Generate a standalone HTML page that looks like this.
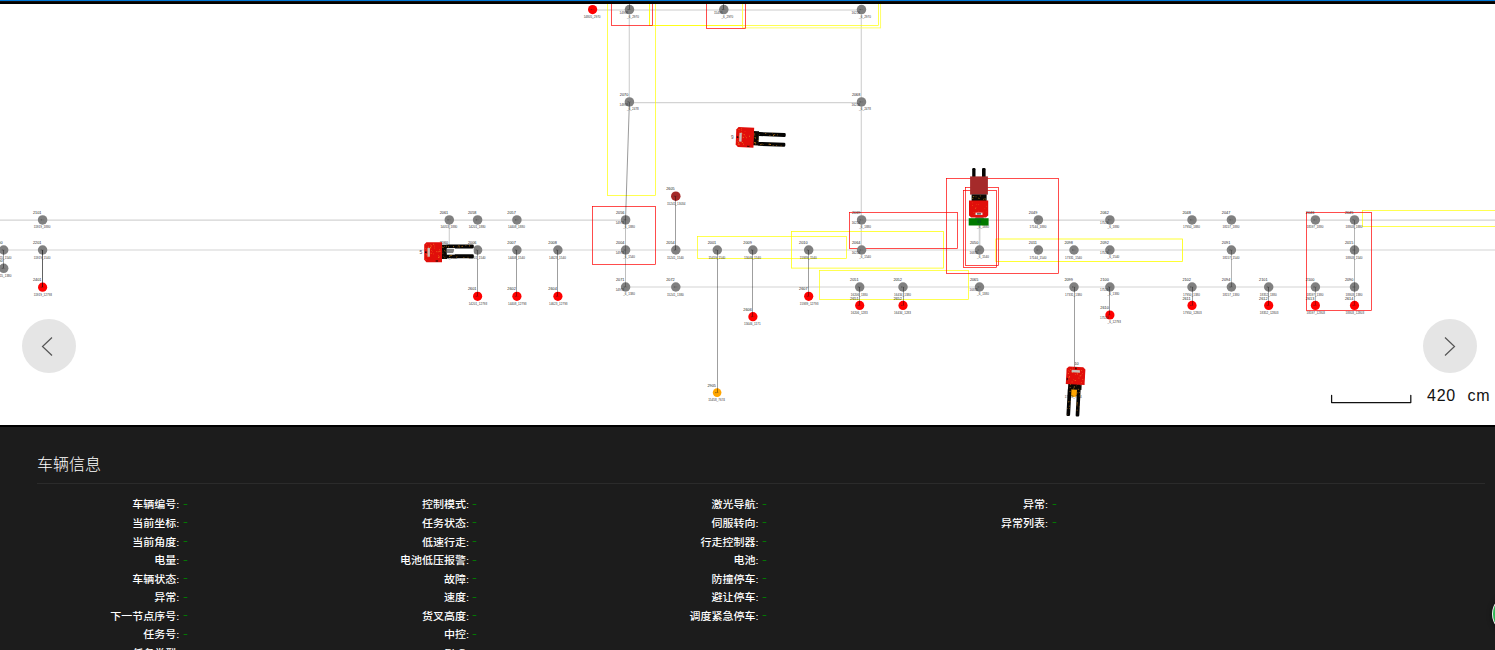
<!DOCTYPE html>
<html lang="zh-CN">
<head>
<meta charset="utf-8">
<title>车辆监控</title>
<style>
*{box-sizing:border-box}
html,body{margin:0;padding:0}
body{width:1495px;height:650px;overflow:hidden;background:#1c1c1c;position:relative;font-family:"Liberation Sans","Noto Sans CJK SC",sans-serif;color:#fff}
#top{position:absolute;left:0;top:0;width:1495px;height:4px;background:linear-gradient(#17100c 0,#17100c 1px,#000 1px);border-top:1px solid #0078d7;z-index:5}
#map{position:absolute;left:0;top:0;width:1495px;height:427px;background:#fff;overflow:hidden;border-bottom:2px solid #000}
#map svg{position:absolute;left:0;top:0}
#map text{font-family:"Liberation Sans",sans-serif;fill:#222}
#map text.i{font-size:3.8px}
#map text.c{font-size:3.04px;fill:#333}
.nav{position:absolute;top:319px;width:54px;height:54px;border-radius:50%;background:#e5e5e5}
.nav svg{position:absolute;left:0;top:0}
#prev{left:22px}
#next{left:1423px}
#scale{position:absolute;left:1427px;top:386.3px;font-size:16px;line-height:20px;color:#111;white-space:pre;letter-spacing:.75px;word-spacing:.6px}
#info{position:absolute;left:0;top:427px;width:1495px;height:223px;background:#1c1c1c}
#info h3{position:absolute;left:37px;top:26px;margin:0;font-size:16px;font-weight:300;line-height:24px;color:#fff}
#info hr{position:absolute;left:37px;top:56px;width:1448px;height:1px;border:0;margin:0;background:#2b2b2b}
#grid{position:absolute;left:37px;top:66.9px;width:1448px;display:flex}
.col{list-style:none;margin:0;padding:0;width:20%;font-size:11px;font-weight:500;line-height:18.571px}
.col li{height:18.571px;white-space:nowrap;display:flex}
.k{display:block;width:142.4px;text-align:right;position:relative;top:1.6px;transform:scaleY(.9);transform-origin:100% 60%}
.k.en{top:-.4px;font-weight:400}
.v{display:block;margin-left:3.4px;font-size:11px;letter-spacing:0;color:#008000;font-weight:400;transform:scaleX(1.35);transform-origin:0 50%}
#fab{position:absolute;left:1491.8px;top:593.2px;width:42px;height:42px;border-radius:50%;background:#2db553;border:1.3px solid #f2f2f2;box-shadow:0 1px 5px rgba(0,0,0,.5)}
</style>
</head>
<body>
<div id="map">
<svg width="1495" height="425" viewBox="0 0 1495 425">
<line x1="0.0" y1="220.2" x2="625.6" y2="220.2" stroke="#d3d3d3" stroke-width="1.2"/>
<line x1="861.6" y1="220.2" x2="1495.0" y2="220.2" stroke="#d3d3d3" stroke-width="1.2"/>
<line x1="0.0" y1="250.0" x2="1495.0" y2="250.0" stroke="#d3d3d3" stroke-width="1.2"/>
<line x1="625.6" y1="287.0" x2="1354.5" y2="287.0" stroke="#d3d3d3" stroke-width="1.2"/>
<line x1="592.6" y1="10.0" x2="861.5" y2="10.0" stroke="#dcdcdc" stroke-width="1.7"/>
<line x1="629.3" y1="9.6" x2="629.3" y2="102.6" stroke="#d3d3d3" stroke-width="1.2"/>
<line x1="629.3" y1="102.6" x2="861.3" y2="102.6" stroke="#d3d3d3" stroke-width="1.2"/>
<line x1="861.3" y1="9.6" x2="861.3" y2="250.0" stroke="#d3d3d3" stroke-width="1.2"/>
<line x1="449.3" y1="220.2" x2="449.3" y2="250.0" stroke="#d3d3d3" stroke-width="1.2"/>
<line x1="979.6" y1="220.2" x2="979.6" y2="250.0" stroke="#d3d3d3" stroke-width="1.7"/>
<rect x="607.5" y="-4.5" width="48.0" height="200.0" fill="none" stroke="#ffff00" stroke-width="0.68"/>
<rect x="649.5" y="-4.5" width="93.0" height="30.0" fill="none" stroke="#ffff00" stroke-width="0.68"/>
<rect x="742.5" y="-5.0" width="138.1" height="32.9" fill="none" stroke="#ffff55" stroke-width="0.9"/>
<rect x="649.5" y="-4.5" width="229.0" height="30.0" fill="none" stroke="#ffff00" stroke-width="0.68"/>
<rect x="697.5" y="236.5" width="149.0" height="22.0" fill="none" stroke="#ffff00" stroke-width="0.68"/>
<rect x="791.5" y="231.5" width="152.0" height="36.6" fill="none" stroke="#ffff00" stroke-width="0.75"/>
<rect x="819.5" y="270.5" width="149.0" height="29.0" fill="none" stroke="#ffff00" stroke-width="0.68"/>
<rect x="995.9" y="239.0" width="186.6" height="22.4" fill="none" stroke="#ffff00" stroke-width="0.8"/>
<rect x="1362.5" y="210.5" width="138.0" height="16.0" fill="none" stroke="#ffff00" stroke-width="0.68"/>
<rect x="611.5" y="-4.5" width="41.0" height="30.0" fill="none" stroke="#ff0000" stroke-width="0.7"/>
<rect x="706.5" y="-4.5" width="39.0" height="33.0" fill="none" stroke="#ff0000" stroke-width="0.7"/>
<rect x="592.5" y="206.5" width="63.0" height="58.0" fill="none" stroke="#ff0000" stroke-width="0.7"/>
<rect x="849.5" y="212.5" width="108.0" height="36.0" fill="none" stroke="#ff0000" stroke-width="0.7"/>
<rect x="946.5" y="178.5" width="112.0" height="95.0" fill="none" stroke="#ff0000" stroke-width="0.7"/>
<rect x="963.5" y="190.5" width="33.0" height="77.0" fill="none" stroke="#ff0000" stroke-width="0.7"/>
<rect x="965.5" y="187.5" width="33.0" height="78.0" fill="none" stroke="#ff0000" stroke-width="0.7"/>
<rect x="1306.5" y="212.5" width="65.0" height="98.0" fill="none" stroke="#ff0000" stroke-width="0.7"/>
<circle cx="592.6" cy="9.6" r="4.6" fill="#ff0000"/>
<path d="M590.6 9.6h1.4" stroke="#222" stroke-width="1" opacity=".45"/><path d="M592.0 9.6h2.2" stroke="#222" stroke-width=".5" opacity=".3"/>
<circle cx="629.5" cy="9.6" r="4.75" fill="#808080"/>
<path d="M627.5 9.6h1.4" stroke="#222" stroke-width="1" opacity=".45"/><path d="M628.9 9.6h2.2" stroke="#222" stroke-width=".5" opacity=".3"/>
<circle cx="723.8" cy="9.6" r="4.75" fill="#808080"/>
<path d="M721.8 9.6h1.4" stroke="#222" stroke-width="1" opacity=".45"/><path d="M723.2 9.6h2.2" stroke="#222" stroke-width=".5" opacity=".3"/>
<circle cx="861.5" cy="9.6" r="4.75" fill="#808080"/>
<path d="M859.5 9.6h1.4" stroke="#222" stroke-width="1" opacity=".45"/><path d="M860.9 9.6h2.2" stroke="#222" stroke-width=".5" opacity=".3"/>
<circle cx="629.4" cy="101.9" r="4.75" fill="#808080"/>
<path d="M627.4 101.9h1.4" stroke="#222" stroke-width="1" opacity=".45"/><path d="M628.8 101.9h2.2" stroke="#222" stroke-width=".5" opacity=".3"/>
<circle cx="861.5" cy="101.9" r="4.75" fill="#808080"/>
<path d="M859.5 101.9h1.4" stroke="#222" stroke-width="1" opacity=".45"/><path d="M860.9 101.9h2.2" stroke="#222" stroke-width=".5" opacity=".3"/>
<circle cx="675.8" cy="196.2" r="4.75" fill="#a52a2a"/>
<path d="M673.8 196.2h1.4" stroke="#222" stroke-width="1" opacity=".45"/><path d="M675.2 196.2h2.2" stroke="#222" stroke-width=".5" opacity=".3"/>
<circle cx="42.6" cy="219.9" r="4.75" fill="#808080"/>
<path d="M40.6 219.9h1.4" stroke="#222" stroke-width="1" opacity=".45"/><path d="M42.0 219.9h2.2" stroke="#222" stroke-width=".5" opacity=".3"/>
<circle cx="449.3" cy="219.9" r="4.75" fill="#808080"/>
<path d="M447.3 219.9h1.4" stroke="#222" stroke-width="1" opacity=".45"/><path d="M448.7 219.9h2.2" stroke="#222" stroke-width=".5" opacity=".3"/>
<circle cx="477.6" cy="219.9" r="4.75" fill="#808080"/>
<path d="M475.6 219.9h1.4" stroke="#222" stroke-width="1" opacity=".45"/><path d="M477.0 219.9h2.2" stroke="#222" stroke-width=".5" opacity=".3"/>
<circle cx="516.9" cy="219.9" r="4.75" fill="#808080"/>
<path d="M514.9 219.9h1.4" stroke="#222" stroke-width="1" opacity=".45"/><path d="M516.3 219.9h2.2" stroke="#222" stroke-width=".5" opacity=".3"/>
<circle cx="625.6" cy="219.9" r="4.75" fill="#808080"/>
<path d="M623.6 219.9h1.4" stroke="#222" stroke-width="1" opacity=".45"/><path d="M625.0 219.9h2.2" stroke="#222" stroke-width=".5" opacity=".3"/>
<circle cx="861.6" cy="219.9" r="4.75" fill="#808080"/>
<path d="M859.6 219.9h1.4" stroke="#222" stroke-width="1" opacity=".45"/><path d="M861.0 219.9h2.2" stroke="#222" stroke-width=".5" opacity=".3"/>
<circle cx="979.5" cy="219.9" r="4.75" fill="#808080"/>
<path d="M977.5 219.9h1.4" stroke="#222" stroke-width="1" opacity=".45"/><path d="M978.9 219.9h2.2" stroke="#222" stroke-width=".5" opacity=".3"/>
<circle cx="1038.4" cy="219.9" r="4.75" fill="#808080"/>
<path d="M1036.4 219.9h1.4" stroke="#222" stroke-width="1" opacity=".45"/><path d="M1037.8 219.9h2.2" stroke="#222" stroke-width=".5" opacity=".3"/>
<circle cx="1109.9" cy="219.9" r="4.75" fill="#808080"/>
<path d="M1107.9 219.9h1.4" stroke="#222" stroke-width="1" opacity=".45"/><path d="M1109.3 219.9h2.2" stroke="#222" stroke-width=".5" opacity=".3"/>
<circle cx="1192.0" cy="219.9" r="4.75" fill="#808080"/>
<path d="M1190.0 219.9h1.4" stroke="#222" stroke-width="1" opacity=".45"/><path d="M1191.4 219.9h2.2" stroke="#222" stroke-width=".5" opacity=".3"/>
<circle cx="1231.4" cy="219.9" r="4.75" fill="#808080"/>
<path d="M1229.4 219.9h1.4" stroke="#222" stroke-width="1" opacity=".45"/><path d="M1230.8 219.9h2.2" stroke="#222" stroke-width=".5" opacity=".3"/>
<circle cx="1315.4" cy="219.9" r="4.75" fill="#808080"/>
<path d="M1313.4 219.9h1.4" stroke="#222" stroke-width="1" opacity=".45"/><path d="M1314.8 219.9h2.2" stroke="#222" stroke-width=".5" opacity=".3"/>
<circle cx="1354.5" cy="219.9" r="4.75" fill="#808080"/>
<path d="M1352.5 219.9h1.4" stroke="#222" stroke-width="1" opacity=".45"/><path d="M1353.9 219.9h2.2" stroke="#222" stroke-width=".5" opacity=".3"/>
<circle cx="3.7" cy="250.0" r="4.75" fill="#808080"/>
<path d="M1.7 250.0h1.4" stroke="#222" stroke-width="1" opacity=".45"/><path d="M3.1 250.0h2.2" stroke="#222" stroke-width=".5" opacity=".3"/>
<circle cx="42.6" cy="250.0" r="4.75" fill="#808080"/>
<path d="M40.6 250.0h1.4" stroke="#222" stroke-width="1" opacity=".45"/><path d="M42.0 250.0h2.2" stroke="#222" stroke-width=".5" opacity=".3"/>
<circle cx="449.3" cy="250.0" r="4.75" fill="#808080"/>
<path d="M447.3 250.0h1.4" stroke="#222" stroke-width="1" opacity=".45"/><path d="M448.7 250.0h2.2" stroke="#222" stroke-width=".5" opacity=".3"/>
<circle cx="477.6" cy="250.0" r="4.75" fill="#808080"/>
<path d="M475.6 250.0h1.4" stroke="#222" stroke-width="1" opacity=".45"/><path d="M477.0 250.0h2.2" stroke="#222" stroke-width=".5" opacity=".3"/>
<circle cx="516.9" cy="250.0" r="4.75" fill="#808080"/>
<path d="M514.9 250.0h1.4" stroke="#222" stroke-width="1" opacity=".45"/><path d="M516.3 250.0h2.2" stroke="#222" stroke-width=".5" opacity=".3"/>
<circle cx="557.9" cy="250.0" r="4.75" fill="#808080"/>
<path d="M555.9 250.0h1.4" stroke="#222" stroke-width="1" opacity=".45"/><path d="M557.3 250.0h2.2" stroke="#222" stroke-width=".5" opacity=".3"/>
<circle cx="625.6" cy="250.0" r="4.75" fill="#808080"/>
<path d="M623.6 250.0h1.4" stroke="#222" stroke-width="1" opacity=".45"/><path d="M625.0 250.0h2.2" stroke="#222" stroke-width=".5" opacity=".3"/>
<circle cx="675.8" cy="250.0" r="4.75" fill="#808080"/>
<path d="M673.8 250.0h1.4" stroke="#222" stroke-width="1" opacity=".45"/><path d="M675.2 250.0h2.2" stroke="#222" stroke-width=".5" opacity=".3"/>
<circle cx="717.3" cy="250.0" r="4.75" fill="#808080"/>
<path d="M715.3 250.0h1.4" stroke="#222" stroke-width="1" opacity=".45"/><path d="M716.7 250.0h2.2" stroke="#222" stroke-width=".5" opacity=".3"/>
<circle cx="752.9" cy="250.0" r="4.75" fill="#808080"/>
<path d="M750.9 250.0h1.4" stroke="#222" stroke-width="1" opacity=".45"/><path d="M752.3 250.0h2.2" stroke="#222" stroke-width=".5" opacity=".3"/>
<circle cx="808.7" cy="250.0" r="4.75" fill="#808080"/>
<path d="M806.7 250.0h1.4" stroke="#222" stroke-width="1" opacity=".45"/><path d="M808.1 250.0h2.2" stroke="#222" stroke-width=".5" opacity=".3"/>
<circle cx="861.6" cy="250.0" r="4.75" fill="#808080"/>
<path d="M859.6 250.0h1.4" stroke="#222" stroke-width="1" opacity=".45"/><path d="M861.0 250.0h2.2" stroke="#222" stroke-width=".5" opacity=".3"/>
<circle cx="979.5" cy="250.0" r="4.75" fill="#808080"/>
<path d="M977.5 250.0h1.4" stroke="#222" stroke-width="1" opacity=".45"/><path d="M978.9 250.0h2.2" stroke="#222" stroke-width=".5" opacity=".3"/>
<circle cx="1038.4" cy="250.0" r="4.75" fill="#808080"/>
<path d="M1036.4 250.0h1.4" stroke="#222" stroke-width="1" opacity=".45"/><path d="M1037.8 250.0h2.2" stroke="#222" stroke-width=".5" opacity=".3"/>
<circle cx="1074.0" cy="250.0" r="4.75" fill="#808080"/>
<path d="M1072.0 250.0h1.4" stroke="#222" stroke-width="1" opacity=".45"/><path d="M1073.4 250.0h2.2" stroke="#222" stroke-width=".5" opacity=".3"/>
<circle cx="1109.9" cy="250.0" r="4.75" fill="#808080"/>
<path d="M1107.9 250.0h1.4" stroke="#222" stroke-width="1" opacity=".45"/><path d="M1109.3 250.0h2.2" stroke="#222" stroke-width=".5" opacity=".3"/>
<circle cx="1231.4" cy="250.0" r="4.75" fill="#808080"/>
<path d="M1229.4 250.0h1.4" stroke="#222" stroke-width="1" opacity=".45"/><path d="M1230.8 250.0h2.2" stroke="#222" stroke-width=".5" opacity=".3"/>
<circle cx="1354.5" cy="250.0" r="4.75" fill="#808080"/>
<path d="M1352.5 250.0h1.4" stroke="#222" stroke-width="1" opacity=".45"/><path d="M1353.9 250.0h2.2" stroke="#222" stroke-width=".5" opacity=".3"/>
<circle cx="3.7" cy="268.3" r="4.75" fill="#808080"/>
<path d="M1.7 268.3h1.4" stroke="#222" stroke-width="1" opacity=".45"/><path d="M3.1 268.3h2.2" stroke="#222" stroke-width=".5" opacity=".3"/>
<circle cx="625.6" cy="287.0" r="4.75" fill="#808080"/>
<path d="M623.6 287.0h1.4" stroke="#222" stroke-width="1" opacity=".45"/><path d="M625.0 287.0h2.2" stroke="#222" stroke-width=".5" opacity=".3"/>
<circle cx="675.8" cy="287.0" r="4.75" fill="#808080"/>
<path d="M673.8 287.0h1.4" stroke="#222" stroke-width="1" opacity=".45"/><path d="M675.2 287.0h2.2" stroke="#222" stroke-width=".5" opacity=".3"/>
<circle cx="859.7" cy="287.0" r="4.75" fill="#808080"/>
<path d="M857.7 287.0h1.4" stroke="#222" stroke-width="1" opacity=".45"/><path d="M859.1 287.0h2.2" stroke="#222" stroke-width=".5" opacity=".3"/>
<circle cx="903.0" cy="287.0" r="4.75" fill="#808080"/>
<path d="M901.0 287.0h1.4" stroke="#222" stroke-width="1" opacity=".45"/><path d="M902.4 287.0h2.2" stroke="#222" stroke-width=".5" opacity=".3"/>
<circle cx="979.5" cy="287.0" r="4.75" fill="#808080"/>
<path d="M977.5 287.0h1.4" stroke="#222" stroke-width="1" opacity=".45"/><path d="M978.9 287.0h2.2" stroke="#222" stroke-width=".5" opacity=".3"/>
<circle cx="1074.0" cy="287.0" r="4.75" fill="#808080"/>
<path d="M1072.0 287.0h1.4" stroke="#222" stroke-width="1" opacity=".45"/><path d="M1073.4 287.0h2.2" stroke="#222" stroke-width=".5" opacity=".3"/>
<circle cx="1109.9" cy="287.0" r="4.75" fill="#808080"/>
<path d="M1107.9 287.0h1.4" stroke="#222" stroke-width="1" opacity=".45"/><path d="M1109.3 287.0h2.2" stroke="#222" stroke-width=".5" opacity=".3"/>
<circle cx="1192.0" cy="287.0" r="4.75" fill="#808080"/>
<path d="M1190.0 287.0h1.4" stroke="#222" stroke-width="1" opacity=".45"/><path d="M1191.4 287.0h2.2" stroke="#222" stroke-width=".5" opacity=".3"/>
<circle cx="1231.4" cy="287.0" r="4.75" fill="#808080"/>
<path d="M1229.4 287.0h1.4" stroke="#222" stroke-width="1" opacity=".45"/><path d="M1230.8 287.0h2.2" stroke="#222" stroke-width=".5" opacity=".3"/>
<circle cx="1268.7" cy="287.0" r="4.75" fill="#808080"/>
<path d="M1266.7 287.0h1.4" stroke="#222" stroke-width="1" opacity=".45"/><path d="M1268.1 287.0h2.2" stroke="#222" stroke-width=".5" opacity=".3"/>
<circle cx="1315.4" cy="287.0" r="4.75" fill="#808080"/>
<path d="M1313.4 287.0h1.4" stroke="#222" stroke-width="1" opacity=".45"/><path d="M1314.8 287.0h2.2" stroke="#222" stroke-width=".5" opacity=".3"/>
<circle cx="1354.5" cy="287.0" r="4.75" fill="#808080"/>
<path d="M1352.5 287.0h1.4" stroke="#222" stroke-width="1" opacity=".45"/><path d="M1353.9 287.0h2.2" stroke="#222" stroke-width=".5" opacity=".3"/>
<circle cx="42.6" cy="287.2" r="4.6" fill="#ff0000"/>
<path d="M40.6 287.2h1.4" stroke="#222" stroke-width="1" opacity=".45"/><path d="M42.0 287.2h2.2" stroke="#222" stroke-width=".5" opacity=".3"/>
<circle cx="477.6" cy="296.3" r="4.6" fill="#ff0000"/>
<path d="M475.6 296.3h1.4" stroke="#222" stroke-width="1" opacity=".45"/><path d="M477.0 296.3h2.2" stroke="#222" stroke-width=".5" opacity=".3"/>
<circle cx="516.9" cy="296.3" r="4.6" fill="#ff0000"/>
<path d="M514.9 296.3h1.4" stroke="#222" stroke-width="1" opacity=".45"/><path d="M516.3 296.3h2.2" stroke="#222" stroke-width=".5" opacity=".3"/>
<circle cx="557.9" cy="296.3" r="4.6" fill="#ff0000"/>
<path d="M555.9 296.3h1.4" stroke="#222" stroke-width="1" opacity=".45"/><path d="M557.3 296.3h2.2" stroke="#222" stroke-width=".5" opacity=".3"/>
<circle cx="808.7" cy="296.3" r="4.6" fill="#ff0000"/>
<path d="M806.7 296.3h1.4" stroke="#222" stroke-width="1" opacity=".45"/><path d="M808.1 296.3h2.2" stroke="#222" stroke-width=".5" opacity=".3"/>
<circle cx="859.7" cy="305.4" r="4.6" fill="#ff0000"/>
<path d="M857.7 305.4h1.4" stroke="#222" stroke-width="1" opacity=".45"/><path d="M859.1 305.4h2.2" stroke="#222" stroke-width=".5" opacity=".3"/>
<circle cx="903.0" cy="305.4" r="4.6" fill="#ff0000"/>
<path d="M901.0 305.4h1.4" stroke="#222" stroke-width="1" opacity=".45"/><path d="M902.4 305.4h2.2" stroke="#222" stroke-width=".5" opacity=".3"/>
<circle cx="1192.0" cy="305.4" r="4.6" fill="#ff0000"/>
<path d="M1190.0 305.4h1.4" stroke="#222" stroke-width="1" opacity=".45"/><path d="M1191.4 305.4h2.2" stroke="#222" stroke-width=".5" opacity=".3"/>
<circle cx="1268.7" cy="305.4" r="4.6" fill="#ff0000"/>
<path d="M1266.7 305.4h1.4" stroke="#222" stroke-width="1" opacity=".45"/><path d="M1268.1 305.4h2.2" stroke="#222" stroke-width=".5" opacity=".3"/>
<circle cx="1315.4" cy="305.4" r="4.6" fill="#ff0000"/>
<path d="M1313.4 305.4h1.4" stroke="#222" stroke-width="1" opacity=".45"/><path d="M1314.8 305.4h2.2" stroke="#222" stroke-width=".5" opacity=".3"/>
<circle cx="1354.5" cy="305.4" r="4.6" fill="#ff0000"/>
<path d="M1352.5 305.4h1.4" stroke="#222" stroke-width="1" opacity=".45"/><path d="M1353.9 305.4h2.2" stroke="#222" stroke-width=".5" opacity=".3"/>
<circle cx="752.9" cy="316.7" r="4.6" fill="#ff0000"/>
<path d="M750.9 316.7h1.4" stroke="#222" stroke-width="1" opacity=".45"/><path d="M752.3 316.7h2.2" stroke="#222" stroke-width=".5" opacity=".3"/>
<circle cx="1109.9" cy="315.0" r="4.6" fill="#ff0000"/>
<path d="M1107.9 315.0h1.4" stroke="#222" stroke-width="1" opacity=".45"/><path d="M1109.3 315.0h2.2" stroke="#222" stroke-width=".5" opacity=".3"/>
<circle cx="717.1" cy="392.6" r="4.3" fill="#ffa500"/>
<path d="M715.1 392.6h1.4" stroke="#222" stroke-width="1" opacity=".45"/><path d="M716.5 392.6h2.2" stroke="#222" stroke-width=".5" opacity=".3"/>
<line x1="1354.5" y1="220.2" x2="1354.5" y2="305.4" stroke="#000" stroke-width="0.3"/>
<line x1="1231.5" y1="250.0" x2="1231.5" y2="287.0" stroke="#000" stroke-width="0.3"/>
<line x1="1315.5" y1="287.0" x2="1315.5" y2="305.4" stroke="#000" stroke-width="0.28"/>
<line x1="629.4" y1="102.2" x2="625.5" y2="220.2" stroke="#000" stroke-width="0.4"/>
<line x1="625.5" y1="220.2" x2="625.5" y2="287.0" stroke="#000" stroke-width="0.26"/>
<line x1="629.5" y1="4.0" x2="629.5" y2="9.6" stroke="#000" stroke-width="0.38"/>
<line x1="723.5" y1="4.0" x2="723.5" y2="9.6" stroke="#000" stroke-width="0.38"/>
<line x1="3.5" y1="250.0" x2="3.5" y2="268.3" stroke="#000" stroke-width="0.38"/>
<line x1="42.5" y1="250.0" x2="42.5" y2="287.2" stroke="#000" stroke-width="0.62"/>
<line x1="477.5" y1="250.0" x2="477.5" y2="296.3" stroke="#000" stroke-width="0.38"/>
<line x1="516.5" y1="250.0" x2="516.5" y2="296.3" stroke="#000" stroke-width="0.38"/>
<line x1="557.5" y1="250.0" x2="557.5" y2="296.3" stroke="#000" stroke-width="0.38"/>
<line x1="675.5" y1="196.2" x2="675.5" y2="250.0" stroke="#000" stroke-width="0.38"/>
<line x1="717.5" y1="250.0" x2="717.5" y2="392.6" stroke="#000" stroke-width="0.38"/>
<line x1="752.5" y1="250.0" x2="752.5" y2="316.7" stroke="#000" stroke-width="0.38"/>
<line x1="808.5" y1="250.0" x2="808.5" y2="296.3" stroke="#000" stroke-width="0.38"/>
<line x1="859.5" y1="287.0" x2="859.5" y2="305.4" stroke="#000" stroke-width="0.38"/>
<line x1="903.5" y1="287.0" x2="903.5" y2="305.4" stroke="#000" stroke-width="0.38"/>
<line x1="1074.5" y1="287.0" x2="1074.5" y2="392.6" stroke="#000" stroke-width="0.38"/>
<line x1="1109.5" y1="287.0" x2="1109.5" y2="315.0" stroke="#000" stroke-width="0.38"/>
<line x1="1192.5" y1="287.0" x2="1192.5" y2="305.4" stroke="#000" stroke-width="0.38"/>
<line x1="1268.5" y1="287.0" x2="1268.5" y2="305.4" stroke="#000" stroke-width="0.38"/>
<text class="i" x="583.0" y="3.5">2608</text>
<text class="c" x="583.7" y="18.1">14805_2970</text>
<text class="i" x="619.9" y="3.5">2074</text>
<text class="c" x="619.6" y="14.0">14998</text>
<text class="c" x="627.1" y="18.0">_6_2970</text>
<text class="i" x="714.2" y="3.5">2073</text>
<text class="c" x="713.9" y="14.0">15493</text>
<text class="c" x="721.4" y="18.0">_6_2970</text>
<text class="i" x="851.9" y="3.5">2067</text>
<text class="c" x="851.6" y="14.0">16216</text>
<text class="c" x="859.1" y="18.0">_6_2970</text>
<text class="i" x="619.8" y="95.8">2070</text>
<text class="c" x="619.5" y="106.3">14998</text>
<text class="c" x="627.0" y="110.3">_6_2478</text>
<text class="i" x="851.9" y="95.8">2068</text>
<text class="c" x="851.6" y="106.3">16216</text>
<text class="c" x="859.1" y="110.3">_6_2478</text>
<text class="i" x="666.2" y="190.1">2605</text>
<text class="c" x="666.9" y="204.7">15241_13034</text>
<text class="i" x="33.0" y="213.8">2101</text>
<text class="c" x="33.7" y="228.4">11919_1880</text>
<text class="i" x="439.7" y="213.8">2061</text>
<text class="c" x="440.4" y="228.4">14053_1880</text>
<text class="i" x="468.0" y="213.8">2058</text>
<text class="c" x="468.7" y="228.4">14201_1880</text>
<text class="i" x="507.3" y="213.8">2057</text>
<text class="c" x="508.0" y="228.4">14408_1880</text>
<text class="i" x="616.0" y="213.8">2056</text>
<text class="c" x="615.7" y="224.3">14978</text>
<text class="c" x="623.2" y="228.3">_6_1880</text>
<text class="i" x="852.0" y="213.8">2069</text>
<text class="c" x="851.7" y="224.3">16216</text>
<text class="c" x="859.2" y="228.3">_6_1880</text>
<text class="i" x="969.9" y="213.8">2063</text>
<text class="c" x="969.6" y="224.3">16835</text>
<text class="c" x="977.1" y="228.3">_6_1880</text>
<text class="i" x="1028.8" y="213.8">2049</text>
<text class="c" x="1029.5" y="228.4">17144_1880</text>
<text class="i" x="1100.3" y="213.8">2062</text>
<text class="c" x="1100.0" y="224.3">17519</text>
<text class="c" x="1107.5" y="228.3">_6_1880</text>
<text class="i" x="1182.4" y="213.8">2048</text>
<text class="c" x="1183.1" y="228.4">17950_1880</text>
<text class="i" x="1221.8" y="213.8">2047</text>
<text class="c" x="1222.5" y="228.4">18157_1880</text>
<text class="i" x="1305.8" y="213.8">2046</text>
<text class="c" x="1306.5" y="228.4">18597_1880</text>
<text class="i" x="1344.9" y="213.8">2045</text>
<text class="c" x="1345.6" y="228.4">18803_1880</text>
<text class="i" x="-5.9" y="243.9">2200</text>
<text class="c" x="-5.2" y="258.5">11715_1540</text>
<text class="i" x="33.0" y="243.9">2201</text>
<text class="c" x="33.7" y="258.5">11919_1540</text>
<text class="i" x="439.7" y="243.9">2060</text>
<text class="c" x="440.4" y="258.5">14053_1540</text>
<text class="i" x="468.0" y="243.9">2006</text>
<text class="c" x="468.7" y="258.5">14201_1540</text>
<text class="i" x="507.3" y="243.9">2007</text>
<text class="c" x="508.0" y="258.5">14408_1540</text>
<text class="i" x="548.3" y="243.9">2008</text>
<text class="c" x="549.0" y="258.5">14623_1540</text>
<text class="i" x="616.0" y="243.9">2004</text>
<text class="c" x="615.7" y="254.4">14978</text>
<text class="c" x="623.2" y="258.4">_6_1540</text>
<text class="i" x="666.2" y="243.9">2054</text>
<text class="c" x="666.9" y="258.5">15241_1540</text>
<text class="i" x="707.7" y="243.9">2001</text>
<text class="c" x="708.4" y="258.5">15459_1540</text>
<text class="i" x="743.3" y="243.9">2009</text>
<text class="c" x="744.0" y="258.5">15646_1540</text>
<text class="i" x="799.1" y="243.9">2010</text>
<text class="c" x="799.8" y="258.5">15939_1540</text>
<text class="i" x="852.0" y="243.9">2064</text>
<text class="c" x="851.7" y="254.4">16216</text>
<text class="c" x="859.2" y="258.4">_6_1540</text>
<text class="i" x="969.9" y="243.9">2050</text>
<text class="c" x="969.6" y="254.4">16835</text>
<text class="c" x="977.1" y="258.4">_6_1540</text>
<text class="i" x="1028.8" y="243.9">2011</text>
<text class="c" x="1029.5" y="258.5">17144_1540</text>
<text class="i" x="1064.4" y="243.9">2098</text>
<text class="c" x="1065.1" y="258.5">17331_1540</text>
<text class="i" x="1100.3" y="243.9">2092</text>
<text class="c" x="1100.0" y="254.4">17519</text>
<text class="c" x="1107.5" y="258.4">_6_1540</text>
<text class="i" x="1221.8" y="243.9">2091</text>
<text class="c" x="1222.5" y="258.5">18157_1540</text>
<text class="i" x="1344.9" y="243.9">2015</text>
<text class="c" x="1345.6" y="258.5">18803_1540</text>
<text class="i" x="-5.9" y="262.2">2300</text>
<text class="c" x="-5.2" y="276.8">11715_1380</text>
<text class="i" x="616.0" y="280.9">2071</text>
<text class="c" x="615.7" y="291.4">14978</text>
<text class="c" x="623.2" y="295.4">_6_1380</text>
<text class="i" x="666.2" y="280.9">2072</text>
<text class="c" x="666.9" y="295.5">15241_1380</text>
<text class="i" x="850.1" y="280.9">2051</text>
<text class="c" x="850.8" y="295.5">16206_1380</text>
<text class="i" x="893.4" y="280.9">2052</text>
<text class="c" x="894.1" y="295.5">16434_1380</text>
<text class="i" x="969.9" y="280.9">2065</text>
<text class="c" x="969.6" y="291.4">16835</text>
<text class="c" x="977.1" y="295.4">_6_1380</text>
<text class="i" x="1064.4" y="280.9">2099</text>
<text class="c" x="1065.1" y="295.5">17331_1380</text>
<text class="i" x="1100.3" y="280.9">2100</text>
<text class="c" x="1100.0" y="291.4">17519</text>
<text class="c" x="1107.5" y="295.4">_6_1380</text>
<text class="i" x="1182.4" y="280.9">2102</text>
<text class="c" x="1183.1" y="295.5">17950_1380</text>
<text class="i" x="1221.8" y="280.9">2094</text>
<text class="c" x="1222.5" y="295.5">18157_1380</text>
<text class="i" x="1259.1" y="280.9">2101</text>
<text class="c" x="1259.8" y="295.5">18352_1380</text>
<text class="i" x="1305.8" y="280.9">2100</text>
<text class="c" x="1306.5" y="295.5">18597_1380</text>
<text class="i" x="1344.9" y="280.9">2090</text>
<text class="c" x="1345.6" y="295.5">18803_1380</text>
<text class="i" x="33.0" y="281.1">2401</text>
<text class="c" x="33.7" y="295.7">11919_12793</text>
<text class="i" x="468.0" y="290.2">2601</text>
<text class="c" x="468.7" y="304.8">14201_12793</text>
<text class="i" x="507.3" y="290.2">2602</text>
<text class="c" x="508.0" y="304.8">14408_12793</text>
<text class="i" x="548.3" y="290.2">2604</text>
<text class="c" x="549.0" y="304.8">14623_12793</text>
<text class="i" x="799.1" y="290.2">2607</text>
<text class="c" x="799.8" y="304.8">15939_12793</text>
<text class="i" x="850.1" y="299.9">2651</text>
<text class="c" x="850.8" y="313.9">16206_1283</text>
<text class="i" x="893.4" y="299.9">2652</text>
<text class="c" x="894.1" y="313.9">16434_1283</text>
<text class="i" x="1182.4" y="299.9">2611</text>
<text class="c" x="1183.1" y="313.9">17950_12803</text>
<text class="i" x="1259.1" y="299.9">2612</text>
<text class="c" x="1259.8" y="313.9">18352_12803</text>
<text class="i" x="1305.8" y="299.9">2613</text>
<text class="c" x="1306.5" y="313.9">18597_12803</text>
<text class="i" x="1344.9" y="299.9">2614</text>
<text class="c" x="1345.6" y="313.9">18803_12803</text>
<text class="i" x="743.3" y="310.6">2606</text>
<text class="c" x="744.0" y="325.2">15646_1171</text>
<text class="i" x="1100.3" y="308.9">2610</text>
<text class="c" x="1100.0" y="319.4">17519</text>
<text class="c" x="1107.5" y="323.4">_6_12793</text>
<text class="i" x="707.5" y="386.5">2905</text>
<text class="c" x="708.2" y="401.1">15458_7674</text>
<g transform="translate(424.2 252.2) rotate(0) scale(1 1)"><rect x="30.5" y="-4.2" width="19" height="6.8" fill="#fff"/><rect x="22" y="-7.7" width="27.6" height="3.9" rx="1.3" fill="#050403"/><rect x="22" y="2.1" width="27.6" height="3.9" rx="1.3" fill="#050403"/><rect x="17.2" y="-7.5" width="5.6" height="14.3" fill="#0c0805"/><rect x="19.0" y="-5.0" width="0.8" height="0.5" fill="#d08a1c"/><rect x="19.9" y="-2.2" width="0.5" height="0.8" fill="#d08a1c"/><rect x="17.7" y="-1.4" width="0.5" height="0.5" fill="#d08a1c"/><rect x="19.4" y="3.7" width="0.5" height="0.6" fill="#d08a1c"/><rect x="20.3" y="5.3" width="0.7" height="0.7" fill="#d08a1c"/><rect x="21.9" y="-6.4" width="0.9" height="0.6" fill="#d08a1c"/><rect x="18.1" y="-5.5" width="0.6" height="1.0" fill="#d08a1c"/><rect x="18.3" y="0.6" width="0.8" height="0.7" fill="#d08a1c"/><rect x="20.0" y="-6.2" width="0.5" height="0.6" fill="#d08a1c"/><rect x="20.6" y="-1.4" width="0.6" height="0.8" fill="#d08a1c"/><rect x="34.3" y="-6.8" width="0.8" height="0.9" fill="#f0981c"/><rect x="29.1" y="-6.0" width="0.7" height="1.0" fill="#f0981c"/><rect x="41.2" y="-6.8" width="0.9" height="0.5" fill="#f0981c"/><rect x="33.5" y="-5.5" width="0.5" height="0.7" fill="#f0981c"/><rect x="24.0" y="-5.7" width="0.8" height="0.8" fill="#f0981c"/><rect x="44.9" y="-6.7" width="0.8" height="0.8" fill="#f0981c"/><rect x="37.5" y="-6.3" width="0.9" height="1.0" fill="#f0981c"/><rect x="34.9" y="-5.7" width="0.5" height="0.9" fill="#f0981c"/><rect x="39.2" y="5.0" width="0.9" height="0.6" fill="#f0981c"/><rect x="32.6" y="4.1" width="0.4" height="0.7" fill="#f0981c"/><rect x="27.2" y="2.6" width="0.5" height="0.9" fill="#f0981c"/><rect x="26.2" y="3.0" width="0.6" height="1.0" fill="#f0981c"/><rect x="25.0" y="3.5" width="0.7" height="1.0" fill="#f0981c"/><rect x="43.5" y="4.6" width="0.6" height="0.7" fill="#f0981c"/><rect x="32.0" y="4.7" width="0.9" height="0.5" fill="#f0981c"/><rect x="27.4" y="2.9" width="0.5" height="0.7" fill="#f0981c"/><path d="M2.2 -10H17.8V10H2.2L0 7.6V-7.6Z" fill="#e10e0a"/><rect x="9.8" y="-4.5" width="0.5" height="0.8" fill="#f4701a"/><rect x="6.5" y="0.6" width="1.0" height="0.9" fill="#f4701a"/><rect x="8.7" y="1.5" width="0.9" height="0.5" fill="#f4701a"/><rect x="14.5" y="4.3" width="1.0" height="1.0" fill="#f4701a"/><rect x="6.9" y="-2.2" width="0.5" height="0.9" fill="#f4701a"/><rect x="1.9" y="-7.9" width="0.6" height="0.6" fill="#f4701a"/><rect x="6.1" y="-8.1" width="0.5" height="0.6" fill="#f4701a"/><rect x="2.5" y="-2.8" width="0.5" height="1.1" fill="#f4701a"/><rect x="10.2" y="-6.5" width="0.6" height="0.7" fill="#f4701a"/><rect x="6.5" y="-6.9" width="1.0" height="1.2" fill="#f4701a"/><rect x="8.0" y="-0.8" width="0.5" height="0.5" fill="#f4701a"/><rect x="6.1" y="-4.5" width="0.9" height="0.6" fill="#f4701a"/><rect x="1.3" y="7.2" width="0.8" height="0.6" fill="#f4701a"/><rect x="9.1" y="-8.5" width="0.8" height="1.2" fill="#f4701a"/><rect x="13.9" y="2.8" width="0.6" height="0.7" fill="#f4701a"/><rect x="3.5" y="4.1" width="0.8" height="1.0" fill="#f4701a"/><rect x="5.9" y="-5.2" width="0.9" height="1.2" fill="#f4701a"/><rect x="13.8" y="4.7" width="0.9" height="1.0" fill="#f4701a"/><rect x="4.4" y="-0.2" width="0.5" height="0.4" fill="#f8b83a"/><rect x="1.4" y="-4.2" width="0.5" height="0.7" fill="#f8b83a"/><rect x="15.3" y="-1.4" width="0.8" height="0.9" fill="#f8b83a"/><rect x="15.3" y="-2.8" width="0.4" height="0.5" fill="#f8b83a"/><rect x="4.0" y="-5.5" width="0.6" height="0.8" fill="#f8b83a"/><rect x="13.6" y="-0.8" width="0.6" height="0.8" fill="#f8b83a"/><rect x="2.3" y="2.2" width="0.8" height="0.8" fill="#f8b83a"/><rect x="12.3" y="-0.9" width="0.4" height="0.8" fill="#f8b83a"/><rect x="3.3" y="-4.3" width="2.4" height="8.8" fill="#c9beb6"/><rect x="0.8" y="-0.7" width="1.6" height="1.5" fill="#120806"/><rect x="11.5" y="8.3" width="2.4" height="1" fill="#120806"/></g>
<text class="i" style="font-size:5.0px;fill:#4a4a55" x="419.5" y="254.2">5</text>
<rect x="446.8" y="248.0" width="8" height="6.6" fill="#fff"/><clipPath id="ck"><rect x="446.8" y="248.7" width="8" height="4.4"/></clipPath><circle cx="449.3" cy="250" r="4.75" fill="#858585" clip-path="url(#ck)"/>
<g transform="translate(736.0 137.0) rotate(2.2) scale(1 1)"><rect x="22" y="-5.8" width="27.6" height="3.9" rx="1.3" fill="#050403"/><rect x="22" y="4.0" width="27.6" height="3.9" rx="1.3" fill="#050403"/><rect x="17.2" y="-6.7" width="5.6" height="14.3" fill="#0c0805"/><rect x="19.0" y="4.2" width="0.9" height="0.7" fill="#d08a1c"/><rect x="19.3" y="6.1" width="0.8" height="0.5" fill="#d08a1c"/><rect x="18.1" y="-4.3" width="0.9" height="1.0" fill="#d08a1c"/><rect x="18.2" y="4.5" width="0.9" height="0.9" fill="#d08a1c"/><rect x="19.1" y="0.9" width="0.5" height="0.4" fill="#d08a1c"/><rect x="21.9" y="2.2" width="0.7" height="1.0" fill="#d08a1c"/><rect x="19.5" y="5.1" width="0.9" height="0.6" fill="#d08a1c"/><rect x="18.6" y="-2.4" width="0.5" height="0.8" fill="#d08a1c"/><rect x="18.7" y="-0.8" width="0.5" height="1.0" fill="#d08a1c"/><rect x="19.1" y="-0.3" width="0.7" height="1.0" fill="#d08a1c"/><rect x="33.5" y="-3.1" width="0.7" height="0.8" fill="#f0981c"/><rect x="36.1" y="-5.6" width="0.7" height="0.5" fill="#f0981c"/><rect x="23.1" y="-3.5" width="0.5" height="0.7" fill="#f0981c"/><rect x="41.1" y="-4.1" width="0.6" height="0.8" fill="#f0981c"/><rect x="36.9" y="-3.5" width="0.5" height="0.8" fill="#f0981c"/><rect x="29.2" y="-4.9" width="0.8" height="0.8" fill="#f0981c"/><rect x="37.0" y="-3.6" width="0.9" height="0.7" fill="#f0981c"/><rect x="38.3" y="-4.3" width="0.7" height="0.9" fill="#f0981c"/><rect x="34.3" y="5.6" width="0.7" height="1.0" fill="#f0981c"/><rect x="40.5" y="6.6" width="0.9" height="0.6" fill="#f0981c"/><rect x="37.0" y="6.7" width="0.9" height="0.5" fill="#f0981c"/><rect x="26.0" y="5.4" width="0.5" height="0.6" fill="#f0981c"/><rect x="24.8" y="6.0" width="0.8" height="1.0" fill="#f0981c"/><rect x="26.9" y="6.1" width="0.8" height="0.5" fill="#f0981c"/><rect x="45.1" y="6.8" width="0.5" height="1.0" fill="#f0981c"/><rect x="33.0" y="5.5" width="1.0" height="1.0" fill="#f0981c"/><path d="M2.2 -10H17.8V10H2.2L0 7.6V-7.6Z" fill="#e10e0a"/><rect x="3.4" y="-1.7" width="0.8" height="0.7" fill="#f4701a"/><rect x="3.9" y="-3.6" width="0.9" height="0.5" fill="#f4701a"/><rect x="9.3" y="-1.5" width="0.5" height="0.7" fill="#f4701a"/><rect x="10.4" y="-0.3" width="0.5" height="1.2" fill="#f4701a"/><rect x="12.8" y="7.5" width="0.5" height="0.6" fill="#f4701a"/><rect x="1.6" y="4.2" width="0.6" height="0.5" fill="#f4701a"/><rect x="7.3" y="6.5" width="0.9" height="0.6" fill="#f4701a"/><rect x="3.2" y="6.6" width="0.8" height="1.0" fill="#f4701a"/><rect x="2.3" y="-8.0" width="0.9" height="0.8" fill="#f4701a"/><rect x="2.1" y="7.0" width="0.8" height="1.0" fill="#f4701a"/><rect x="2.3" y="5.6" width="0.5" height="1.1" fill="#f4701a"/><rect x="7.8" y="-3.2" width="0.8" height="1.1" fill="#f4701a"/><rect x="5.0" y="-6.8" width="0.8" height="0.6" fill="#f4701a"/><rect x="2.6" y="-6.3" width="0.5" height="0.6" fill="#f4701a"/><rect x="5.7" y="-3.8" width="0.9" height="0.7" fill="#f4701a"/><rect x="8.5" y="-6.0" width="0.7" height="0.5" fill="#f4701a"/><rect x="4.8" y="-8.7" width="0.9" height="0.8" fill="#f4701a"/><rect x="3.8" y="-0.9" width="1.0" height="0.5" fill="#f4701a"/><rect x="13.3" y="-1.7" width="0.6" height="0.8" fill="#f8b83a"/><rect x="6.9" y="-0.4" width="0.7" height="0.9" fill="#f8b83a"/><rect x="6.1" y="5.1" width="0.7" height="0.7" fill="#f8b83a"/><rect x="7.1" y="-3.1" width="0.4" height="0.4" fill="#f8b83a"/><rect x="2.1" y="3.6" width="0.5" height="0.4" fill="#f8b83a"/><rect x="2.3" y="5.3" width="0.7" height="0.7" fill="#f8b83a"/><rect x="5.2" y="-4.9" width="0.5" height="0.6" fill="#f8b83a"/><rect x="3.4" y="-1.4" width="0.5" height="0.9" fill="#f8b83a"/><rect x="3.3" y="-4.3" width="2.4" height="8.8" fill="#c9beb6"/><rect x="0.8" y="-0.7" width="1.6" height="1.5" fill="#120806"/><rect x="11.5" y="8.3" width="2.4" height="1" fill="#120806"/></g>
<text class="i" style="font-size:4.6px;fill:#4a4a55" x="731.1" y="138.6">9</text>
<circle cx="1073.8" cy="392.6" r="4.3" fill="#ffa500"/>
<text class="c" text-anchor="middle" x="1073.3" y="397.9">17329_7674</text>
<g transform="translate(1076.1 366.8) rotate(93) scale(1 0.94)"><rect x="22" y="-6.1" width="27.6" height="3.9" rx="1.3" fill="#050403"/><rect x="22" y="3.7" width="27.6" height="3.9" rx="1.3" fill="#050403"/><rect x="17.2" y="-6.9" width="5.6" height="14.3" fill="#0c0805"/><rect x="21.9" y="0.8" width="0.6" height="1.1" fill="#d08a1c"/><rect x="18.9" y="-1.7" width="0.4" height="0.7" fill="#d08a1c"/><rect x="19.6" y="0.2" width="0.5" height="0.8" fill="#d08a1c"/><rect x="17.5" y="-2.9" width="0.5" height="0.7" fill="#d08a1c"/><rect x="17.7" y="-6.1" width="0.6" height="0.6" fill="#d08a1c"/><rect x="20.1" y="0.5" width="0.8" height="0.9" fill="#d08a1c"/><rect x="20.7" y="5.1" width="0.6" height="0.6" fill="#d08a1c"/><rect x="21.9" y="-4.4" width="0.8" height="0.8" fill="#d08a1c"/><rect x="17.7" y="4.5" width="0.9" height="0.8" fill="#d08a1c"/><rect x="20.8" y="4.2" width="0.5" height="0.8" fill="#d08a1c"/><rect x="35.6" y="-3.7" width="0.9" height="1.0" fill="#f0981c"/><rect x="37.6" y="-3.5" width="0.8" height="0.9" fill="#f0981c"/><rect x="28.7" y="-5.9" width="0.5" height="0.7" fill="#f0981c"/><rect x="25.6" y="-3.7" width="0.7" height="0.8" fill="#f0981c"/><rect x="38.7" y="-4.1" width="0.7" height="0.4" fill="#f0981c"/><rect x="42.9" y="-3.9" width="0.7" height="0.8" fill="#f0981c"/><rect x="39.5" y="-5.8" width="0.8" height="0.6" fill="#f0981c"/><rect x="24.9" y="-5.3" width="0.8" height="0.6" fill="#f0981c"/><rect x="41.5" y="6.5" width="0.7" height="0.7" fill="#f0981c"/><rect x="35.0" y="5.7" width="0.8" height="0.8" fill="#f0981c"/><rect x="39.1" y="4.1" width="0.5" height="0.6" fill="#f0981c"/><rect x="41.6" y="4.7" width="0.7" height="0.4" fill="#f0981c"/><rect x="24.5" y="4.6" width="0.8" height="0.9" fill="#f0981c"/><rect x="39.9" y="4.7" width="0.7" height="0.7" fill="#f0981c"/><rect x="34.7" y="4.2" width="0.9" height="0.6" fill="#f0981c"/><rect x="47.5" y="6.4" width="0.4" height="0.7" fill="#f0981c"/><path d="M2.2 -10H17.8V10H2.2L0 7.6V-7.6Z" fill="#e10e0a"/><rect x="13.3" y="7.5" width="0.7" height="0.6" fill="#f4701a"/><rect x="4.1" y="7.1" width="0.6" height="0.9" fill="#f4701a"/><rect x="3.1" y="-0.1" width="1.0" height="0.5" fill="#f4701a"/><rect x="13.3" y="-0.4" width="1.0" height="1.0" fill="#f4701a"/><rect x="4.5" y="6.3" width="0.7" height="0.5" fill="#f4701a"/><rect x="1.1" y="-0.6" width="0.7" height="0.7" fill="#f4701a"/><rect x="3.1" y="-3.2" width="0.6" height="1.1" fill="#f4701a"/><rect x="1.0" y="3.8" width="0.9" height="0.5" fill="#f4701a"/><rect x="14.9" y="3.1" width="1.0" height="0.7" fill="#f4701a"/><rect x="6.6" y="-2.3" width="1.0" height="0.9" fill="#f4701a"/><rect x="6.4" y="-1.7" width="0.6" height="0.5" fill="#f4701a"/><rect x="2.5" y="5.2" width="0.6" height="1.1" fill="#f4701a"/><rect x="4.7" y="-4.5" width="0.8" height="0.6" fill="#f4701a"/><rect x="6.6" y="7.3" width="1.0" height="1.0" fill="#f4701a"/><rect x="10.5" y="6.5" width="1.0" height="0.8" fill="#f4701a"/><rect x="11.8" y="-8.2" width="0.9" height="0.8" fill="#f4701a"/><rect x="12.3" y="2.0" width="0.6" height="0.5" fill="#f4701a"/><rect x="14.9" y="-6.8" width="0.7" height="0.7" fill="#f4701a"/><rect x="5.5" y="3.6" width="0.8" height="0.5" fill="#f8b83a"/><rect x="10.8" y="-3.9" width="0.6" height="0.6" fill="#f8b83a"/><rect x="3.5" y="-6.3" width="0.4" height="0.8" fill="#f8b83a"/><rect x="8.5" y="-5.3" width="0.8" height="0.9" fill="#f8b83a"/><rect x="7.7" y="-6.6" width="0.4" height="0.4" fill="#f8b83a"/><rect x="6.1" y="-7.5" width="0.5" height="0.5" fill="#f8b83a"/><rect x="9.5" y="6.1" width="0.7" height="0.6" fill="#f8b83a"/><rect x="7.2" y="-0.1" width="0.5" height="0.5" fill="#f8b83a"/><rect x="3.3" y="-4.3" width="2.4" height="8.8" fill="#c9beb6"/><rect x="0.8" y="-0.7" width="1.6" height="1.5" fill="#120806"/><rect x="11.5" y="8.3" width="2.4" height="1" fill="#120806"/></g>
<text class="i" x="1074.4" y="364.7">10</text>
<g><rect x="972.2" y="168.1" width="3.3" height="10" rx="1.2" fill="#050403"/><rect x="982.0" y="168.1" width="3.6" height="10" rx="1.2" fill="#050403"/><rect x="970.1" y="176.4" width="17.8" height="18.2" fill="#a52a2a"/><rect x="971.6" y="194.4" width="15" height="7" fill="#0c0805"/><rect x="972.8" y="196.6" width="0.9" height="0.5" fill="#e0a01c"/><rect x="978.8" y="198.0" width="0.8" height="0.5" fill="#e0a01c"/><rect x="975.7" y="196.5" width="0.6" height="0.7" fill="#e0a01c"/><rect x="984.9" y="198.9" width="0.8" height="0.4" fill="#e0a01c"/><rect x="972.4" y="198.3" width="0.8" height="0.7" fill="#e0a01c"/><rect x="979.9" y="195.5" width="0.6" height="0.9" fill="#e0a01c"/><rect x="983.1" y="198.9" width="0.9" height="0.5" fill="#e0a01c"/><rect x="973.5" y="196.1" width="0.6" height="0.8" fill="#e0a01c"/><rect x="984.7" y="198.4" width="0.7" height="0.8" fill="#e0a01c"/><rect x="978.2" y="197.7" width="0.4" height="0.9" fill="#e0a01c"/><path d="M969 200.4H988.2V215.4L986 217.6H971.2L969 215.4Z" fill="#e10e0a"/><rect x="973.8" y="214.4" width="0.7" height="0.6" fill="#f0661a"/><rect x="972.1" y="205.0" width="0.7" height="0.8" fill="#f0661a"/><rect x="971.9" y="202.5" width="0.6" height="0.7" fill="#f0661a"/><rect x="976.4" y="204.6" width="0.7" height="0.4" fill="#f0661a"/><rect x="975.0" y="207.9" width="0.9" height="0.8" fill="#f0661a"/><rect x="984.6" y="208.2" width="0.5" height="0.5" fill="#f0661a"/><rect x="985.9" y="211.4" width="0.5" height="0.4" fill="#f0661a"/><rect x="978.2" y="210.9" width="0.6" height="0.5" fill="#f0661a"/><rect x="981.0" y="214.5" width="0.5" height="0.4" fill="#f0661a"/><rect x="975.6" y="207.4" width="0.7" height="0.5" fill="#f0661a"/><rect x="983.2" y="211.8" width="0.6" height="0.5" fill="#f0661a"/><rect x="986.0" y="205.9" width="0.8" height="0.5" fill="#f0661a"/><rect x="973.7" y="212.1" width="0.5" height="1.0" fill="#f0661a"/><rect x="978.2" y="204.1" width="0.5" height="0.6" fill="#f0661a"/><rect x="975.5" y="212.6" width="7" height="2.4" fill="#e8e2dc"/><rect x="977" y="213.4" width="4" height="1" fill="#222"/><rect x="968.7" y="218.2" width="19.9" height="7.3" fill="#007a00"/><text class="i" x="977.2" y="223.4" style="fill:#043">63</text></g>
<path d="M1331.6 395.3V402.6H1410.8V395.3" fill="none" stroke="#111" stroke-width="1.25" stroke-linecap="round" stroke-linejoin="round"/>
</svg>
<div class="nav" id="prev"><svg width="54" height="54" viewBox="0 0 54 54"><path d="M30 18.5L20.5 27.5L30 36.5" fill="none" stroke="#555" stroke-width="1.2"/></svg></div>
<div class="nav" id="next"><svg width="54" height="54" viewBox="0 0 54 54"><path d="M22 18.5L31.5 27.5L22 36.5" fill="none" stroke="#555" stroke-width="1.2"/></svg></div>
<div id="scale">420  cm</div>
</div>
<div id="top"></div>
<div id="info">
<h3>车辆信息</h3>
<hr>
<div id="grid">
<ul class="col"><li><span class="k">车辆编号:</span><span class="v">-</span></li><li><span class="k">当前坐标:</span><span class="v">-</span></li><li><span class="k">当前角度:</span><span class="v">-</span></li><li><span class="k">电量:</span><span class="v">-</span></li><li><span class="k">车辆状态:</span><span class="v">-</span></li><li><span class="k">异常:</span><span class="v">-</span></li><li><span class="k">下一节点序号:</span><span class="v">-</span></li><li><span class="k">任务号:</span><span class="v">-</span></li><li><span class="k">任务类型:</span><span class="v">-</span></li></ul>
<ul class="col"><li><span class="k">控制模式:</span><span class="v">-</span></li><li><span class="k">任务状态:</span><span class="v">-</span></li><li><span class="k">低速行走:</span><span class="v">-</span></li><li><span class="k">电池低压报警:</span><span class="v">-</span></li><li><span class="k">故障:</span><span class="v">-</span></li><li><span class="k">速度:</span><span class="v">-</span></li><li><span class="k">货叉高度:</span><span class="v">-</span></li><li><span class="k">中控:</span><span class="v">-</span></li><li><span class="k en">PLC:</span><span class="v">-</span></li></ul>
<ul class="col"><li><span class="k">激光导航:</span><span class="v">-</span></li><li><span class="k">伺服转向:</span><span class="v">-</span></li><li><span class="k">行走控制器:</span><span class="v">-</span></li><li><span class="k">电池:</span><span class="v">-</span></li><li><span class="k">防撞停车:</span><span class="v">-</span></li><li><span class="k">避让停车:</span><span class="v">-</span></li><li><span class="k">调度紧急停车:</span><span class="v">-</span></li></ul>
<ul class="col"><li><span class="k">异常:</span><span class="v">-</span></li><li><span class="k">异常列表:</span><span class="v">-</span></li></ul>
<ul class="col"></ul>
</div>
</div>
<div id="fab"></div>
</body>
</html>
